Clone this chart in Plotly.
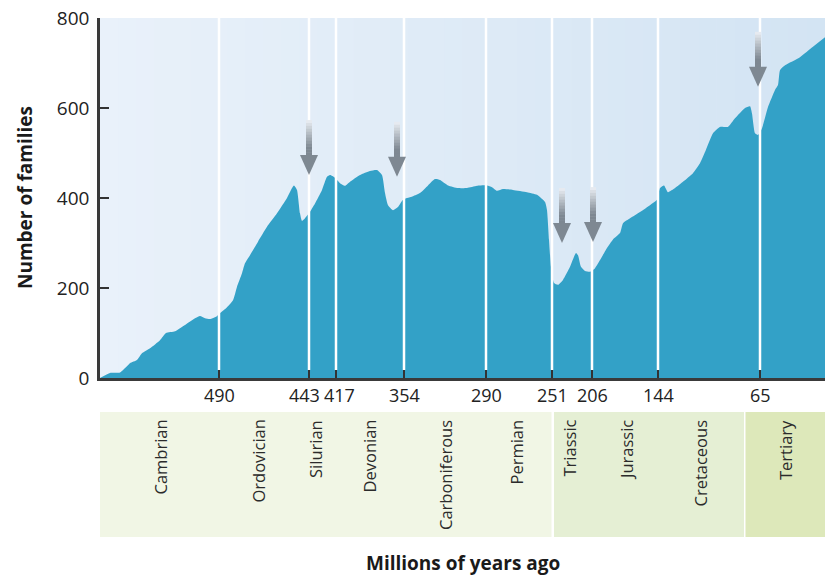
import numpy as np
import plotly.graph_objects as go

# ---------------- data ----------------
# time-scale position (nonlinear geologic scale) of the period boundaries
boundary_ages = [490, 443, 417, 354, 290, 251, 206, 144, 65]
boundary_pos = [119, 209, 236, 304, 386, 452, 492, 558, 660]
tick_labels = [str(a) for a in boundary_ages]

# diversity curve: time-scale position vs number of families
curve_pos = [0, 10, 20, 25, 30, 37, 42, 50, 60, 66, 75, 85, 95, 100, 105, 110, 116, 120,
             126, 133, 137, 142, 145, 150, 158, 167, 177, 187, 192, 194, 197, 200, 202,
             205, 209, 215, 222, 227, 230, 235, 240, 245, 250, 260, 270, 277, 282, 285,
             288, 293, 298, 303, 307, 313, 320, 328, 335, 340, 348, 358, 367, 377, 387,
             392, 397, 403, 413, 427, 437, 445, 447, 449, 451, 454, 458, 463, 470, 476,
             478, 481, 485, 490, 495, 500, 507, 513, 520, 523, 530, 540, 550, 557, 560,
             564, 568, 575, 583, 593, 600, 605, 613, 620, 628, 635, 645, 650, 652, 655,
             658, 662, 668, 675, 678, 680, 685, 700, 713, 725]
families = [0, 11, 12, 22, 33, 40, 55, 66, 84, 100, 104, 118, 133, 138, 133, 131, 136, 144,
            155, 173, 203, 233, 255, 273, 303, 336, 366, 400, 422, 428, 418, 366, 349,
            355, 366, 388, 418, 447, 451, 445, 433, 427, 436, 451, 460, 462, 451, 411,
            384, 373, 380, 396, 400, 404, 411, 428, 442, 440, 428, 422, 422, 427, 428,
            424, 416, 420, 418, 413, 407, 391, 373, 307, 247, 211, 207, 218, 247, 278,
            273, 247, 238, 236, 244, 262, 289, 308, 322, 344, 355, 369, 384, 396, 422,
            428, 413, 422, 436, 455, 477, 502, 544, 558, 558, 577, 600, 604, 588, 544,
            540, 555, 602, 640, 651, 684, 695, 713, 736, 757]

# extinction-event arrows: position on the time scale and families at the arrow tip
arrow_pos = [209, 297, 462, 493, 658]
arrow_tip = [451, 447, 300, 302, 647]

# geologic periods shown in the band below the axis
periods = ["Cambrian", "Ordovician", "Silurian", "Devonian", "Carboniferous",
           "Permian", "Triassic", "Jurassic", "Cretaceous", "Tertiary"]
period_label_pos = [60, 158, 215, 269, 345, 416, 469, 526, 600, 685]
era_edges = [(0, 451.5), (454, 644), (645.5, 725)]
era_colors = ["#f1f6e5", "#e5efd4", "#dde8ba"]

X_MAX = 725
Y_MAX = 800
FONT = "Open Sans"

fig = go.Figure()
fig.add_trace(go.Scatter(
    x=curve_pos, y=families, mode="lines",
    line=dict(width=0, shape="spline", smoothing=0.5),
    fill="tozeroy", fillcolor="#33a1c7", hoverinfo="skip", showlegend=False))

shapes = []
# background gradient (left light to right slightly darker blue)
n = 40
c0 = np.array([233, 241, 250])
c1 = np.array([211, 228, 243])
for i in range(n):
    t = i / (n - 1)
    c = (c0 + (c1 - c0) * t).round().astype(int)
    shapes.append(dict(type="rect", xref="x", yref="y", layer="below",
                       x0=X_MAX * i / n, x1=X_MAX * (i + 1) / n + 0.5, y0=0, y1=Y_MAX,
                       line=dict(width=0), fillcolor=f"rgb({c[0]},{c[1]},{c[2]})"))
# white period boundary lines
for p in boundary_pos:
    shapes.append(dict(type="line", xref="x", yref="y", layer="above",
                       x0=p, x1=p, y0=18, y1=Y_MAX, line=dict(color="white", width=2.5)))
# arrows (gradient shaft + head)
px_per_unit = 360 / Y_MAX
head_h = 20 / px_per_unit
shaft_h = 35 / px_per_unit
seg = 12
a0 = np.array([236, 240, 245])
a1 = np.array([126, 136, 146])
for xp, tip in zip(arrow_pos, arrow_tip):
    base = tip + head_h
    top = base + shaft_h
    for k in range(seg):
        t = (k + 0.5) / seg
        c = (a0 + (a1 - a0) * min(1, t * 1.3)).round().astype(int)
        y_hi = top - (top - base) * k / seg
        y_lo = top - (top - base) * (k + 1) / seg - 1
        shapes.append(dict(type="rect", xref="x", yref="y", layer="above",
                           x0=xp - 3, x1=xp + 3, y0=y_lo, y1=y_hi,
                           line=dict(width=0), fillcolor=f"rgb({c[0]},{c[1]},{c[2]})"))
    shapes.append(dict(type="path", xref="x", yref="y", layer="above",
                       path=f"M {xp-9},{base} L {xp+9},{base} L {xp},{tip} Z",
                       line=dict(width=0), fillcolor="rgb(126,136,146)"))
# era band below axis
for (e0, e1), col in zip(era_edges, era_colors):
    shapes.append(dict(type="rect", xref="x", yref="paper", layer="above",
                       x0=e0, x1=e1, y0=(378 - 537) / 360, y1=(378 - 412) / 360,
                       line=dict(width=0), fillcolor=col))

annotations = []
# x tick labels (the crowded 443/417 pair is nudged apart as in the original)
label_nudge = {443: -5, 417: 3}
for age, p, lab in zip(boundary_ages, boundary_pos, tick_labels):
    annotations.append(dict(text=lab, x=p, xref="x", y=(378 - 395) / 360, yref="paper",
                            xshift=label_nudge.get(age, 0), xanchor="center",
                            yanchor="middle", showarrow=False,
                            font=dict(family=FONT, size=18, color="#222")))
for name, p in zip(periods, period_label_pos):
    annotations.append(dict(text=name, x=p, xref="x", y=(378 - 418) / 360, yref="paper",
                            textangle=-90, xanchor="center", yanchor="top", showarrow=False,
                            font=dict(family=FONT, size=16.5, color="#2b2b2b")))
annotations.append(dict(text="<b>Number of families</b>", xref="paper", x=0, xshift=-75,
                        yref="paper", y=0.5, textangle=-90, showarrow=False,
                        xanchor="center", yanchor="middle",
                        font=dict(family=FONT, size=19, color="#1a1a1a")))
annotations.append(dict(text="<b>Millions of years ago</b>", xref="paper", x=0.5,
                        yref="paper", y=(378 - 563) / 360, showarrow=False,
                        xanchor="center", yanchor="middle",
                        font=dict(family=FONT, size=19, color="#1a1a1a")))

fig.update_layout(
    width=826, height=575,
    margin=dict(l=100, r=1, t=18, b=197, autoexpand=False),
    paper_bgcolor="white", plot_bgcolor="#e3edf7",
    shapes=shapes, annotations=annotations, showlegend=False,
    font=dict(family=FONT, size=18, color="#222"),
)
fig.update_xaxes(range=[0, X_MAX], tickvals=boundary_pos, showticklabels=False,
                 ticks="inside", ticklen=8, tickwidth=1.5, tickcolor="#333",
                 showline=True, linecolor="#3a3a3a", linewidth=2.5,
                 showgrid=False, zeroline=False, automargin=False)
fig.update_yaxes(range=[0, Y_MAX], tickvals=[0, 200, 400, 600, 800],
                 ticks="inside", ticklen=9, tickwidth=1.5, tickcolor="#333",
                 showline=True, linecolor="#3a3a3a", linewidth=2.5, tickangle=0,
                 showgrid=False, zeroline=False, ticklabelstandoff=4, automargin=False,
                 tickfont=dict(family=FONT, size=19, color="#222"))

fig.write_html("out.html", config={"displayModeBar": False},
               post_script="document.body.style.margin='0';")
